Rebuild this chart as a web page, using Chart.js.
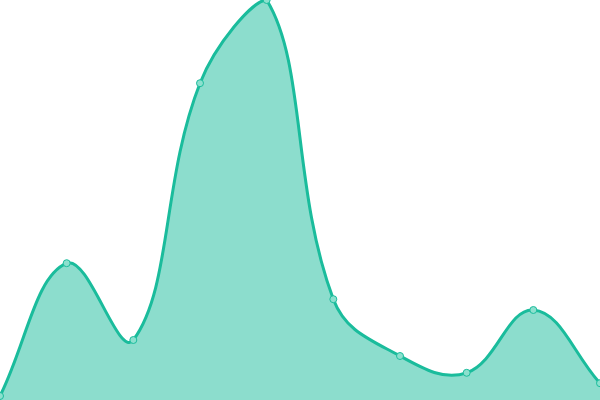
<!DOCTYPE html>
<html><head><meta charset="utf-8">
<script src="https://cdn.jsdelivr.net/npm/chart.js@4"></script>
<style>html,body{margin:0;padding:0;background:#fff}#wrap{width:600px;height:400px}</style>
</head><body><div id="wrap"><canvas id="c"></canvas></div>
<script>
const categories = ["1","2","3","4","5","6","7","8","9","10"];
const values = [1, 34.2, 15, 79.2, 100, 25.2, 11, 6.8, 22.5, 4.2];
new Chart(document.getElementById('c'), {
  type: 'line',
  data: { labels: categories, datasets: [{
    data: values,
    fill: true,
    backgroundColor: 'rgba(26,188,156,0.5)',
    borderColor: '#1abc9c',
    borderWidth: 3,
    tension: 0.4,
    pointRadius: 3.5,
    pointBackgroundColor: 'rgba(140,224,206,1)',
    pointBorderColor: '#1abc9c',
    pointBorderWidth: 1
  }]},
  options: {
    responsive: true, maintainAspectRatio: false, animation: false,
    layout: { padding: 0, autoPadding: false },
    plugins: { legend: { display: false }, tooltip: { enabled: false } },
    scales: {
      x: { display: false, offset: false },
      y: { display: false, min: 0, max: 100 }
    }
  }
});
</script></body></html>
